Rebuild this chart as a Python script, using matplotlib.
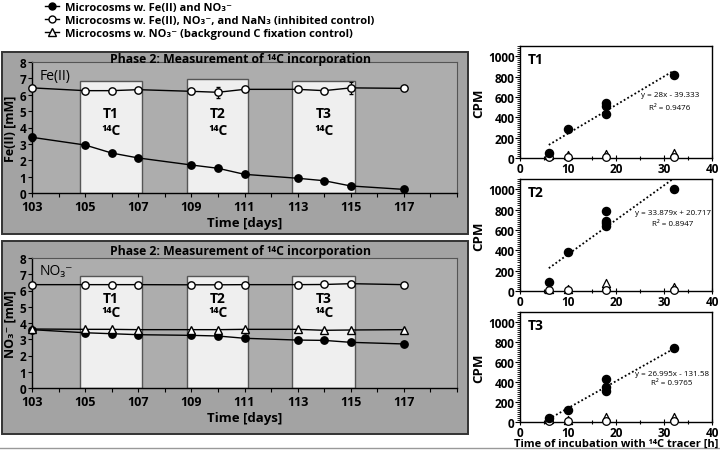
import matplotlib
matplotlib.use("Agg")
import matplotlib.pyplot as plt
from matplotlib.patches import Rectangle
from matplotlib.lines import Line2D
from matplotlib.ticker import MultipleLocator

plt.rcParams['font.family'] = ['Open Sans', 'DejaVu Sans']

# ---- left panels: time course ----
days = [103, 105, 106, 107, 109, 110, 111, 113, 114, 115, 117]
fe_active = [3.40, 2.93, 2.44, 2.14, 1.71, 1.51, 1.14, 0.90, 0.75, 0.43, 0.22]
fe_active_err = [0.2, 0.05, 0.05, 0.05, 0.05, 0.05, 0.05, 0.05, 0.05, 0.05, 0.05]
fe_inhib = [6.42, 6.25, 6.25, 6.31, 6.21, 6.15, 6.33, 6.33, 6.25, 6.42, 6.39]
fe_inhib_err = [0.05, 0.05, 0.05, 0.05, 0.15, 0.35, 0.05, 0.05, 0.05, 0.35, 0.05]

no3_active = [3.59, 3.40, 3.34, 3.28, 3.24, 3.20, 3.06, 2.95, 2.93, 2.81, 2.71]
no3_inhib = [6.36, 6.36, 6.36, 6.36, 6.35, 6.35, 6.36, 6.36, 6.37, 6.42, 6.36]
no3_bg = [3.63, 3.61, 3.61, 3.59, 3.59, 3.59, 3.61, 3.61, 3.55, 3.57, 3.59]

period_names = ['T1', 'T2', 'T3']
period_start = [104.8, 108.85, 112.8]
period_end = [107.15, 111.15, 115.15]
period_top_fe = [6.85, 6.97, 6.85]
period_top_no3 = [6.88, 6.88, 6.88]

# ---- right panels: 14C incubations ----
inc_h = [6, 10, 18, 18, 18, 32]
cpm_t1 = [50, 280, 430, 513, 536, 811]
inc_h_t2 = [6, 10, 18, 18, 18, 18, 32]
cpm_t2 = [88, 382, 640, 667, 690, 784, 1000]
cpm_t3 = [37, 122, 307, 347, 426, 736]

ctrl_h = [6, 10, 18, 32]
ctrl_t1 = [12, 8, 12, 8]
ctrl_t2 = [10, 6, 12, 6]
ctrl_t3 = [10, 12, 10, 12]
bg_h = [6, 10, 18, 32]
bg_t1 = [25, 32, 42, 45]
bg_h_t2 = [6, 10, 18, 18, 32]
bg_t2 = [22, 22, 45, 80, 42]
bg_t3 = [32, 22, 50, 50]

fits = [(28.0, -39.333, 0.9476), (33.879, 20.717, 0.8947), (26.995, -131.58, 0.9765)]

W, H = 720, 452
fig = plt.figure(figsize=(W / 100, H / 100), dpi=100)


def fbox(x0, y0, x1, y1):
    return [x0 / W, 1 - y1 / H, (x1 - x0) / W, (y1 - y0) / H]


# outer grey panels
for y0, y1 in [(53, 235), (242, 435)]:
    r = Rectangle((2 / W, 1 - y1 / H), 466 / W, (y1 - y0) / H, transform=fig.transFigure,
                  facecolor='#a3a3a3', edgecolor='#333333', lw=1.4, zorder=-2)
    fig.add_artist(r)
fig.add_artist(Line2D([0, 1], [1 - 449 / H, 1 - 449 / H], transform=fig.transFigure,
                      color='#999999', lw=1, zorder=-2))


def left_panel(rect, tops, label, ylabel, text_y):
    ax = fig.add_axes(rect)
    ax.set_facecolor('#adadad')
    ax.set_xlim(103, 119)
    ax.set_ylim(0, 8)
    for s in ['left', 'bottom']:
        ax.spines[s].set_color('black')
        ax.spines[s].set_linewidth(1)
    for s in ['top', 'right']:
        ax.spines[s].set_color('#555555')
        ax.spines[s].set_linewidth(0.8)
    ax.set_xticks(range(103, 118, 2))
    ax.set_xticks(range(103, 120), minor=True)
    ax.set_yticks(range(0, 9))
    ax.tick_params(axis='both', which='both', direction='out', length=3, width=0.8,
                   labelsize=9, pad=2)
    for t in ax.get_xticklabels() + ax.get_yticklabels():
        t.set_fontweight('bold')
    ax.tick_params(axis='y', labelsize=8.5, pad=1)
    ax.set_xlabel('Time [days]', fontsize=9.5, fontweight='bold', labelpad=2)
    ax.set_ylabel(ylabel, fontsize=9, fontweight='bold', labelpad=2)
    for name, a, b, top in zip(period_names, period_start, period_end, tops):
        ax.add_patch(Rectangle((a, 0), b - a, top, facecolor='#efefef',
                               edgecolor='#555555', lw=1, zorder=1))
        ax.text((a + b) / 2, text_y[0], name, ha='center', va='center', fontsize=10,
                fontweight='bold', zorder=2)
        ax.text((a + b) / 2, text_y[1], '¹⁴C', ha='center', va='center', fontsize=10,
                fontweight='bold', zorder=2)
    ax.text(0.018, 0.9, label, transform=ax.transAxes, fontsize=10, va='center')
    return ax


ax_fe = left_panel(fbox(32, 63, 457, 194), period_top_fe, 'Fe(II)', 'Fe(II) [mM]', (4.9, 3.85))
ax_fe.errorbar(days, fe_inhib, yerr=fe_inhib_err, color='black', lw=1, marker='o', ms=5.3,
               mfc='white', mec='black', mew=1, capsize=1.5, elinewidth=0.8, zorder=3,
               clip_on=False)
ax_fe.errorbar(days, fe_active, yerr=fe_active_err, color='black', lw=1, marker='o', ms=5.3,
               mfc='black', mec='black', capsize=1.5, elinewidth=0.8, zorder=3, clip_on=False)

ax_no3 = left_panel(fbox(32, 259, 457, 389), period_top_no3, 'NO₃⁻', 'NO₃⁻ [mM]', (5.55, 4.7))
ax_no3.plot(days, no3_inhib, color='black', lw=1, marker='o', ms=5.3, mfc='white', mec='black',
            zorder=3, clip_on=False)
ax_no3.plot(days, no3_active, color='black', lw=1, marker='o', ms=5.3, mfc='black', zorder=3,
            clip_on=False)
ax_no3.plot(days, no3_bg, color='black', lw=1, marker='^', ms=6, mfc='white', mec='black',
            zorder=4, clip_on=False)

for ty in [59, 252]:
    fig.text(240 / W, 1 - ty / H, 'Phase 2: Measurement of ¹⁴C incorporation', ha='center',
             va='center', fontsize=8.8, fontweight='bold')

# legend
handles = [
    Line2D([], [], color='black', lw=1, marker='o', ms=5, mfc='black'),
    Line2D([], [], color='black', lw=1, marker='o', ms=5, mfc='white'),
    Line2D([], [], color='black', lw=1, marker='^', ms=5.5, mfc='white'),
]
labels = [
    'Microcosms w. Fe(II) and NO₃⁻',
    'Microcosms w. Fe(II), NO₃⁻, and NaN₃ (inhibited control)',
    'Microcosms w. NO₃⁻ (background C fixation control)',
]
leg = fig.legend(handles, labels, loc='upper left', bbox_to_anchor=(38 / W, 1 + 4 / H),
                 frameon=False, handlelength=1.3, handletextpad=0.5, labelspacing=0.2,
                 borderpad=0.1, prop={'size': 8, 'weight': 'bold'})

# right panels
right_rects = [fbox(520, 47, 712, 159), fbox(520, 180, 712, 292), fbox(520, 313, 712, 423)]
active_x = [inc_h, inc_h_t2, inc_h]
active_y = [cpm_t1, cpm_t2, cpm_t3]
ctrl_y = [ctrl_t1, ctrl_t2, ctrl_t3]
bg_x = [bg_h, bg_h_t2, bg_h]
bg_y = [bg_t1, bg_t2, bg_t3]
eq_pos = [(0.78, 0.565, 0.455), (0.795, 0.70, 0.60), (0.79, 0.445, 0.355)]

for i, rect in enumerate(right_rects):
    ax = fig.add_axes(rect)
    ax.set_xlim(0, 40)
    ax.set_ylim(0, 1100)
    for s in ax.spines.values():
        s.set_linewidth(1)
    ax.xaxis.set_major_locator(MultipleLocator(10))
    ax.xaxis.set_minor_locator(MultipleLocator(5))
    ax.yaxis.set_major_locator(MultipleLocator(200))
    ax.yaxis.set_minor_locator(MultipleLocator(20))
    ax.tick_params(axis='x', which='major', direction='inout', length=5, width=0.8)
    ax.tick_params(axis='x', which='minor', direction='inout', length=3, width=0.8)
    ax.tick_params(axis='y', which='major', direction='out', length=3.5, width=0.8)
    ax.tick_params(axis='y', which='minor', direction='out', length=2, width=0.6)
    ax.tick_params(labelsize=8.5, pad=0.5)
    for t in ax.get_xticklabels() + ax.get_yticklabels():
        t.set_fontweight('bold')
    ax.set_ylabel('CPM', fontsize=9.5, fontweight='bold', labelpad=2)
    ax.text(0.04, 0.88, period_names[i], transform=ax.transAxes, fontsize=10,
            fontweight='bold', va='center')
    ax.scatter(bg_x[i], bg_y[i], marker='^', s=34, facecolor='white', edgecolor='black',
               lw=0.9, zorder=3, clip_on=False)
    ax.scatter(ctrl_h, ctrl_y[i], marker='o', s=30, facecolor='white', edgecolor='black',
               lw=0.9, zorder=4, clip_on=False)
    ax.scatter(active_x[i], active_y[i], marker='o', s=34, facecolor='black',
               edgecolor='black', zorder=5, clip_on=False)
    m, b, r2 = fits[i]
    xs = [6, 32]
    ax.plot(xs, [m * x + b for x in xs], color='black', lw=1.3, linestyle=(0, (1, 1.3)),
            zorder=2)
    sign = '+' if b >= 0 else '-'
    ax.text(eq_pos[i][0], eq_pos[i][1], f'y = {m:g}x {sign} {abs(b):g}', transform=ax.transAxes,
            ha='center', va='center', fontsize=5.8, zorder=6)
    ax.text(eq_pos[i][0], eq_pos[i][2], f'R² = {r2:g}', transform=ax.transAxes,
            ha='center', va='center', fontsize=5.8, zorder=6)
    if i == 2:
        ax.set_xlabel('Time of incubation with ¹⁴C tracer [h]', fontsize=8,
                      fontweight='bold', labelpad=-1)

fig.savefig('out.png', dpi=100)
